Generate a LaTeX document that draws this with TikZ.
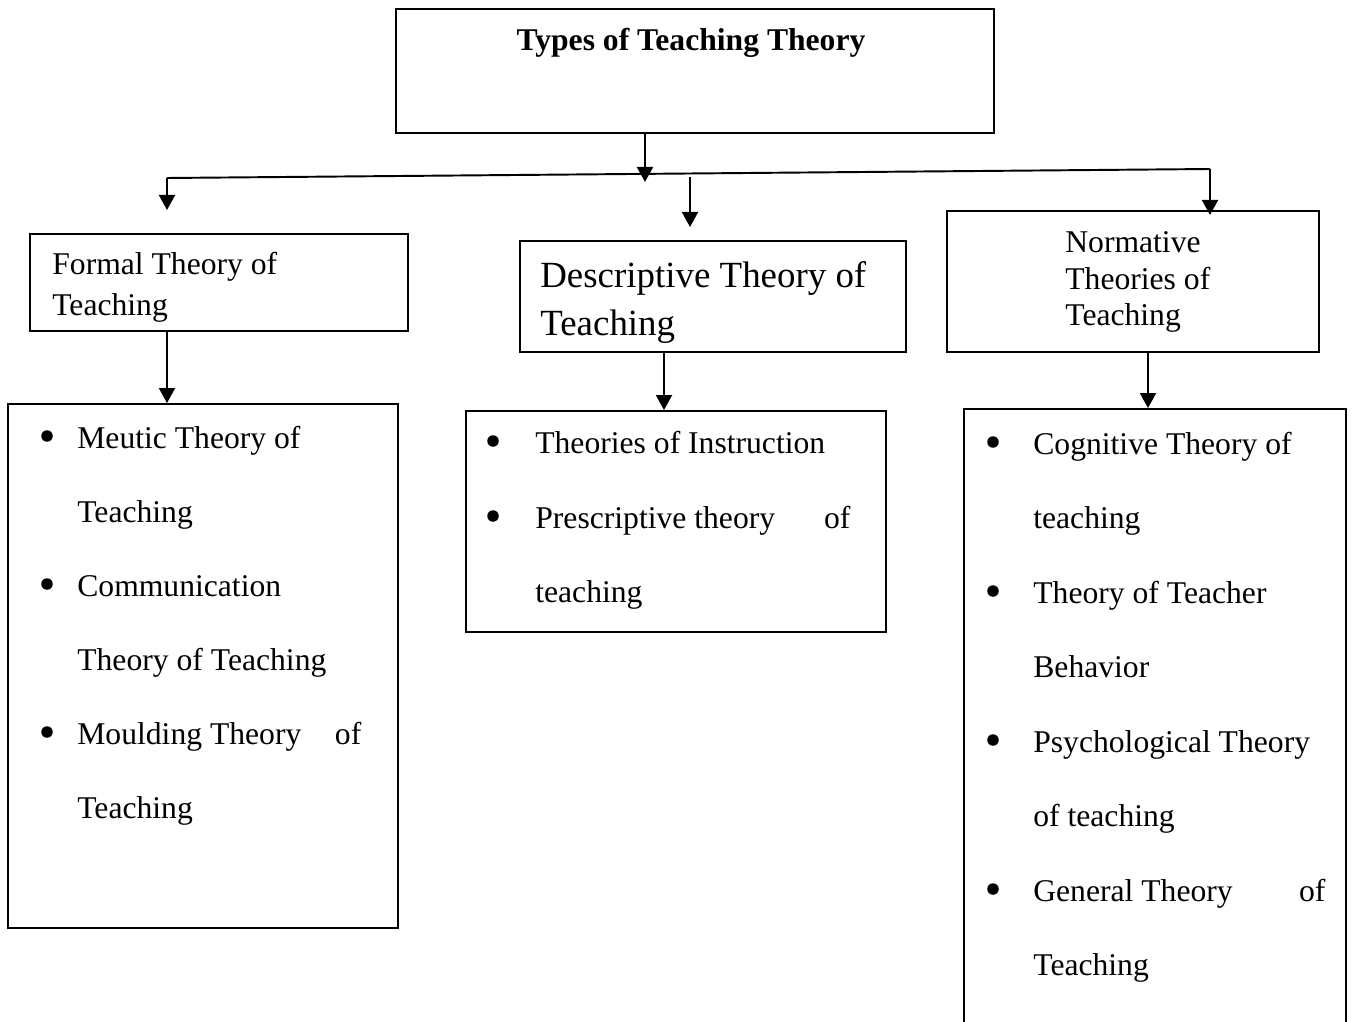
\documentclass[tikz,border=0pt]{standalone}
\usepackage{fontspec}
\setmainfont{Liberation Serif}
\usetikzlibrary{arrows.meta}
\tikzset{
  box/.style={draw, rectangle, line width=1.1pt, inner sep=0pt},
  txt/.style={anchor=base west, inner sep=0pt, font=\fontsize{18}{22}\selectfont},
  bul/.style={circle, fill, inner sep=0pt, minimum size=0.23cm, yshift=0.24cm},
  arr/.style={line width=1.1pt, -{Triangle[length=0.3cm,width=0.32cm]}},
}
\begin{document}
\begin{tikzpicture}
\useasboundingbox (0,0) rectangle (27.12,-20.44);
\clip (0,0) rectangle (27.12,-20.44);

% Title box
\node[box, minimum width=11.96cm, minimum height=2.48cm] (title) at (13.9,-1.42) {};
\node[anchor=base, inner sep=0pt, font=\fontsize{18}{22}\selectfont\bfseries] (titletext) at (13.82,-1.02) {Types of Teaching Theory};

% Formal theory box
\node[box, minimum width=7.56cm, minimum height=1.94cm] (formal) at (4.38,-5.65) {};
\node[txt] (ft1) at (1.04,-5.50) {Formal Theory of};
\node[txt] (ft2) at (1.04,-6.30) {Teaching};

% Descriptive theory box
\node[box, minimum width=7.72cm, minimum height=2.22cm] (descr) at (14.26,-5.93) {};
\node[txt, font=\fontsize{21}{25}\selectfont] (dt1) at (10.8,-5.76) {Descriptive Theory of};
\node[txt, font=\fontsize{21}{25}\selectfont] (dt2) at (10.8,-6.70) {Teaching};

% Normative theories box
\node[box, minimum width=7.44cm, minimum height=2.82cm] (norm) at (22.66,-5.63) {};
\node[txt] (nt1) at (21.3,-5.04) {Normative};
\node[txt] (nt2) at (21.3,-5.78) {Theories of};
\node[txt] (nt3) at (21.3,-6.50) {Teaching};

% Formal list
\node[box, minimum width=7.8cm, minimum height=10.48cm] (formallist) at (4.06,-13.32) {};
\node[bul] (fb1) at (0.94,-8.96) {};
\node[txt] (fl1) at (1.54,-8.96) {Meutic Theory of};
\node[txt] (fl2) at (1.54,-10.44) {Teaching};
\node[bul] (fb2) at (0.94,-11.92) {};
\node[txt] (fl3) at (1.54,-11.92) {Communication};
\node[txt] (fl4) at (1.54,-13.40) {Theory of Teaching};
\node[bul] (fb3) at (0.94,-14.88) {};
\node[txt] (fl5) at (1.54,-14.88) {\makebox[5.68cm][l]{Moulding Theory\hfill of}};
\node[txt] (fl6) at (1.54,-16.36) {Teaching};

% Descriptive list
\node[box, minimum width=8.4cm, minimum height=4.42cm] (descrlist) at (13.52,-10.43) {};
\node[bul] (db1) at (9.86,-9.06) {};
\node[txt] (dl1) at (10.7,-9.06) {Theories of Instruction};
\node[bul] (db2) at (9.86,-10.56) {};
\node[txt] (dl2) at (10.7,-10.56) {\makebox[6.3cm][l]{Prescriptive theory\hfill of}};
\node[txt] (dl3) at (10.7,-12.04) {teaching};

% Normative list (runs past the page)
\node[box, minimum width=7.64cm, minimum height=12.82cm] (normlist) at (23.1,-14.59) {};
\node[bul] (nb1) at (19.86,-9.08) {};
\node[txt] (nl1) at (20.66,-9.08) {Cognitive Theory of};
\node[txt] (nl2) at (20.66,-10.57) {teaching};
\node[bul] (nb2) at (19.86,-12.06) {};
\node[txt] (nl3) at (20.66,-12.06) {Theory of Teacher};
\node[txt] (nl4) at (20.66,-13.55) {Behavior};
\node[bul] (nb3) at (19.86,-15.04) {};
\node[txt] (nl5) at (20.66,-15.04) {Psychological Theory};
\node[txt] (nl6) at (20.66,-16.53) {of teaching};
\node[bul] (nb4) at (19.86,-18.02) {};
\node[txt] (nl7) at (20.66,-18.02) {\makebox[5.84cm][l]{General Theory\hfill of}};
\node[txt] (nl8) at (20.66,-19.51) {Teaching};

% Branch line
\coordinate (barL) at (3.34,-3.56);
\coordinate (barR) at (24.2,-3.38);
\coordinate (bartip) at (12.9,-3.64);
\coordinate (formaltip) at (3.34,-4.2);
\coordinate (midtop) at (13.8,-3.54);
\coordinate (midtip) at (13.8,-4.54);
\coordinate (normtip) at (24.2,-4.3);

\draw[line width=1.1pt] (barL) -- (barR);
\draw[arr] ([xshift=-1.0cm]title.south) -- (bartip);
\draw[arr] (barL) -- (formaltip);
\draw[arr] (midtop) -- (midtip);
\draw[arr] (barR) -- (normtip);

% Boxes to lists
\draw[arr] ([xshift=-1.04cm]formal.south) -- ([xshift=-0.72cm]formallist.north);
\draw[arr] ([xshift=-0.98cm]descr.south) -- ([xshift=-0.24cm]descrlist.north);
\draw[arr] ([xshift=0.30cm]norm.south) -- ([xshift=-0.14cm]normlist.north);

\end{tikzpicture}
\end{document}
